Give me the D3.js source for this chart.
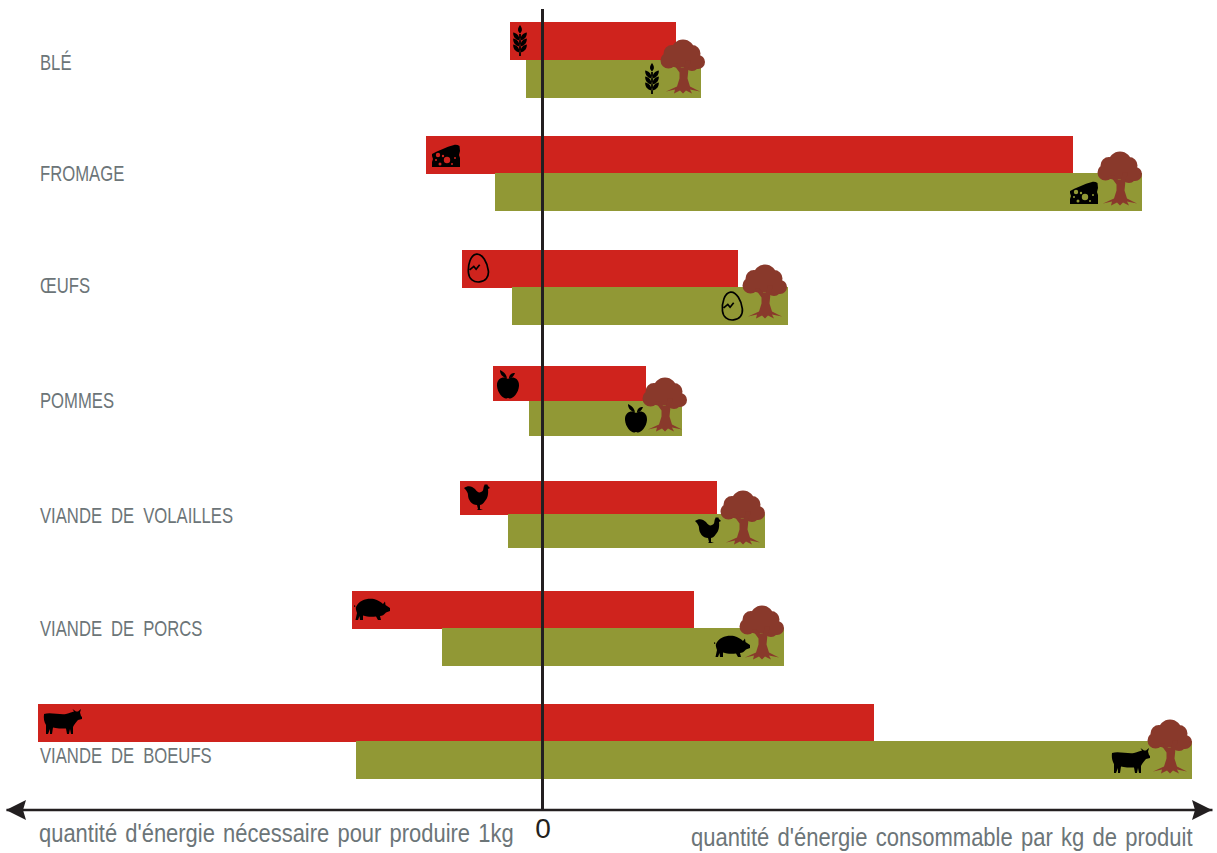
<!DOCTYPE html>
<html>
<head>
<meta charset="utf-8">
<script src="https://cdn.jsdelivr.net/npm/d3@7"></script>
<style>
html, body { margin: 0; padding: 0; background: #fff; }
svg { display: block; }
text { font-family: "Liberation Sans", sans-serif; }
</style>
</head>
<body>
<svg id="drawing_region"></svg>
<script>
// values (arbitrary units, the chart has no graduation)
const categories = ['BLÉ', 'FROMAGE', 'ŒUFS', 'POMMES', 'VIANDE DE VOLAILLES', 'VIANDE DE PORCS', 'VIANDE DE BOEUFS'];
const needLeft = [-32.5, -116.5, -80.5, -49.5, -82.5, -190.5, -504.5];
const needRight = [133.5, 530.5, 195.5, 103.5, 174.5, 151.5, 331.5];
const usableLeft = [-16.5, -47.5, -30.5, -13.5, -34.5, -100.5, -186.5];
const usableRight = [158.5, 599.5, 245.5, 139.5, 222.5, 241.5, 649.5];
const icons = ['wheat', 'cheese', 'egg', 'apple', 'chicken', 'pig', 'cow'];
const leftAxisTitle = "quantité d'énergie nécessaire pour produire 1kg";
const rightAxisTitle = "quantité d'énergie consommable par kg de produit";

// rows are not evenly spaced in the original
const rowTop = [22, 136, 250, 366, 481, 591, 704];
const rowBar = [38, 38, 38, 35, 34, 38, 38];
const greenTop = [60, 173, 287, 401, 514, 628, 741];
const labelY = [70, 181, 293, 408, 523, 636, 763];
const insetRed = [10, 20, 16, 15, 18, 20, 24];
const insetGreen = [49, 58, 56, 46, 56, 52, 62];
const iconDyRed = [19, 20, 18, 18, 16, 18, 18];
const iconDyGreen = [19, 20, 19, 17, 16, 18, 20];
const treeInset = [18, 22, 23, 17, 22, 22, 22];
const treeDy = [6.5, 5.5, 4.5, 3.5, 3.5, 4.5, 5.5];

const RED = '#cf231d', GREEN = '#919835', TREE = '#89392b', GREY = '#6c7578', INK = '#231f20';

const circle = (cx, cy, r) => {
  const p = d3.path();
  p.arc(cx, cy, r, 0, 2 * Math.PI);
  return p.toString();
};

const leaves = dy => `M-.6,${dy + 1}c-.5,-4 -3,-6 -6.2,-6.5c-.3,4 2,7 6.2,8zM.6,${dy + 1}c.5,-4 3,-6 6.2,-6.5c.3,4 -2,7 -6.2,8z`;

const shapes = {
  wheat: 'M0,-16C2.6,-12.5 2.6,-10 0,-7.5C-2.6,-10 -2.6,-12.5 0,-16ZM-.9,-7H.9V15H-.9Z' + leaves(-3) + leaves(3) + leaves(9),
  cheese: 'M-14,-2C-8,-5 0,-9 8,-11C10,-11.5 12,-11 13.5,-10L14,-5L13,-1L14,2V11H-14V6L-13,3L-14,0Z'
    + circle(-8, -1, 2.2) + circle(-3, 0, 1.2) + circle(1, 4, 3.2) + circle(-6, 8, 1.5) + circle(-10, 4, 1) + circle(6, 8, 1) + circle(9, 2, 1),
  apple: 'M0,-5C3,-8 11.5,-7 11,2C10.5,9 5,14.5 2,14.5C1,14.5 .5,14 0,14C-.5,14 -1,14.5 -2,14.5C-5,14.5 -10.5,9 -11,2C-11.5,-7 -3,-8 0,-5Z'
    + 'M-1,-6C-2,-11 -6,-13 -8,-14C-8,-10 -6,-7 -1,-6ZM1,-6C1.5,-10 4,-11 7,-11C6,-8 4,-6 1,-6Z',
  chicken: 'M-14,-9C-10,-12 -6,-11 -3,-8C-1,-5 1,-4 3,-5C6,-6 5,-9 6,-11L7,-13L8,-12L9,-13L10,-11L12,-9L10,-8C10.5,-4 10,1 7,4C5,7 3,8 2,8L2,12L5,13L-1,13L0,12L-1,8C-6,8 -10,3 -10,-2C-10,-4 -11,-6 -14,-9Z',
  pig: 'M-16,-2C-13,-9 -5,-11 2,-10C6,-9 9,-7 11,-5L13,-7.5L13.5,-4L18,-1L18,2L14,3.5C12,6 10,7 8,7L9,11L6,11L4,7.5C0,8 -5,8 -9,6.5L-9,11L-12,11L-12.5,7L-14,11L-16.5,11L-15,4C-16,1 -16.5,-1 -16,-2ZM-16,-3C-18,-5 -19,-2 -17,-2L-16.5,-2.5C-17.5,-3 -17,-4 -16,-3Z',
  cow: 'M-18,-8C-12,-10 -2,-7 4,-8C8,-9 10,-10 12,-10.5L10.5,-13L14,-10.5L16,-10.5L19,-13L18,-9.5L19,-6L20,-5L20,-3L16,-2C14,0 12,3 11,5L11,12L9,12L8,7L7,12L5,12L4,6.5C0,6.5 -6,6.5 -9,5.5L-10,12L-12,12L-12,7L-14,12L-16,12L-16,3C-18,0 -18.5,-4 -18,-8Z'
};
const eggOutline = 'M0,-14C6,-14 10,-4 10,4C10,10 6,14 0,14C-6,14 -10,10 -10,4C-10,-4 -6,-14 0,-14ZM-8.5,1L-4,-2L-2,1L2,-3';
const treeCrown = [[0, -15.5, 11.5], [9, -13, 8.5], [15, -4.5, 7], [9, -3, 7.5], [-11, -13, 8.5], [-14.5, -6, 8], [-5, -8, 9.5], [3, -8, 9.5]]
  .map(c => circle(c[0], c[1], c[2])).join('');
const treeTrunk = 'M-10,-3L-6,-3L-2,1L1,1L3,-6L8,-6L5.5,2L4.5,12L7,20L17,25L7,23L9,27L3,24L0,27L-3,24L-9,27L-8,23L-17,25L-6,20L-3.5,12L-3.5,6Z';

const width = 1217, height = 853;
const svg = d3.select('#drawing_region').attr('width', width).attr('height', height);

const x = d3.scaleLinear().domain([-536.5, 669.5]).range([6, 1212]);
const axisY = 810;
const rows = categories.map((c, i) => ({
  name: c, icon: icons[i], i,
  top: rowTop[i], h: rowBar[i], gtop: greenTop[i],
  a: needLeft[i], b: needRight[i], c: usableLeft[i], d: usableRight[i]
}));

const row = svg.selectAll('g.row').data(rows).join('g').attr('class', 'row');

row.append('rect')
  .attr('x', d => x(d.a))
  .attr('y', d => d.top)
  .attr('width', d => x(d.b) - x(d.a))
  .attr('height', d => d.h)
  .attr('fill', RED);

row.append('rect')
  .attr('x', d => x(d.c))
  .attr('y', d => d.gtop)
  .attr('width', d => x(d.d) - x(d.c))
  .attr('height', d => d.h)
  .attr('fill', GREEN);

// no narrow font is installed, so the labels are squeezed horizontally
row.append('text')
  .attr('transform', d => `translate(40, ${labelY[d.i]}) scale(0.725, 1)`)
  .attr('font-size', 23)
  .attr('word-spacing', 6)
  .attr('fill', GREY)
  .text(d => d.name);

function drawIcon(g, d, cx, cy) {
  const icon = g.append('g').attr('transform', `translate(${cx},${cy})`);
  if (d.icon === 'egg') {
    icon.append('path').attr('d', eggOutline).attr('transform', 'rotate(-6)')
      .attr('fill', 'none').attr('stroke', '#000').attr('stroke-width', 1.7);
  } else {
    icon.append('path').attr('d', shapes[d.icon]).attr('fill', '#000').attr('fill-rule', 'evenodd');
  }
}

row.each(function(d) {
  const g = d3.select(this);
  drawIcon(g, d, x(d.a) + insetRed[d.i], d.top + iconDyRed[d.i]);
  drawIcon(g, d, x(d.d) - insetGreen[d.i], d.gtop + iconDyGreen[d.i]);
  const tree = g.append('g').attr('transform', `translate(${x(d.d) - treeInset[d.i]},${d.gtop + treeDy[d.i]})`);
  tree.append('path').attr('d', treeCrown).attr('fill', TREE);
  tree.append('path').attr('d', treeTrunk).attr('fill', TREE);
});

// vertical zero line
svg.append('line')
  .attr('x1', x(0)).attr('x2', x(0))
  .attr('y1', 9).attr('y2', axisY)
  .attr('stroke', INK).attr('stroke-width', 3);

// horizontal axis with only the 0 tick
const xaxis = d3.axisBottom(x).tickValues([0]).tickSize(0).tickPadding(9).tickFormat(d3.format('d'));
const xaxis_group = svg.append('g')
  .attr('transform', `translate(0, ${axisY - 0.5})`)
  .call(xaxis);
xaxis_group.select('.domain').attr('stroke', INK).attr('stroke-width', 2.6);
xaxis_group.selectAll('.tick text')
  .attr('font-family', '"Liberation Sans", sans-serif')
  .attr('font-size', 28)
  .attr('fill', INK);

// arrow heads on both ends
const arrow = d3.line();
const [xa, xb] = x.range();
svg.append('path').attr('fill', INK)
  .attr('d', arrow([[xa, axisY], [xa + 20, axisY - 10], [xa + 17, axisY], [xa + 20, axisY + 10]]) + 'Z');
svg.append('path').attr('fill', INK)
  .attr('d', arrow([[xb, axisY], [xb - 20, axisY - 10], [xb - 17, axisY], [xb - 20, axisY + 10]]) + 'Z');

// squeeze a title until it has the wanted width
function fitTitle(label, tx, ty, wanted) {
  const t = svg.append('text')
    .attr('font-size', 26)
    .attr('word-spacing', 2.5)
    .attr('fill', GREY)
    .text(label);
  const k = wanted / t.node().getComputedTextLength();
  t.attr('transform', `translate(${tx}, ${ty}) scale(${k}, 1)`);
}
fitTitle(leftAxisTitle, 39, 842, 475);
fitTitle(rightAxisTitle, 691, 846, 502);
</script>
</body>
</html>
